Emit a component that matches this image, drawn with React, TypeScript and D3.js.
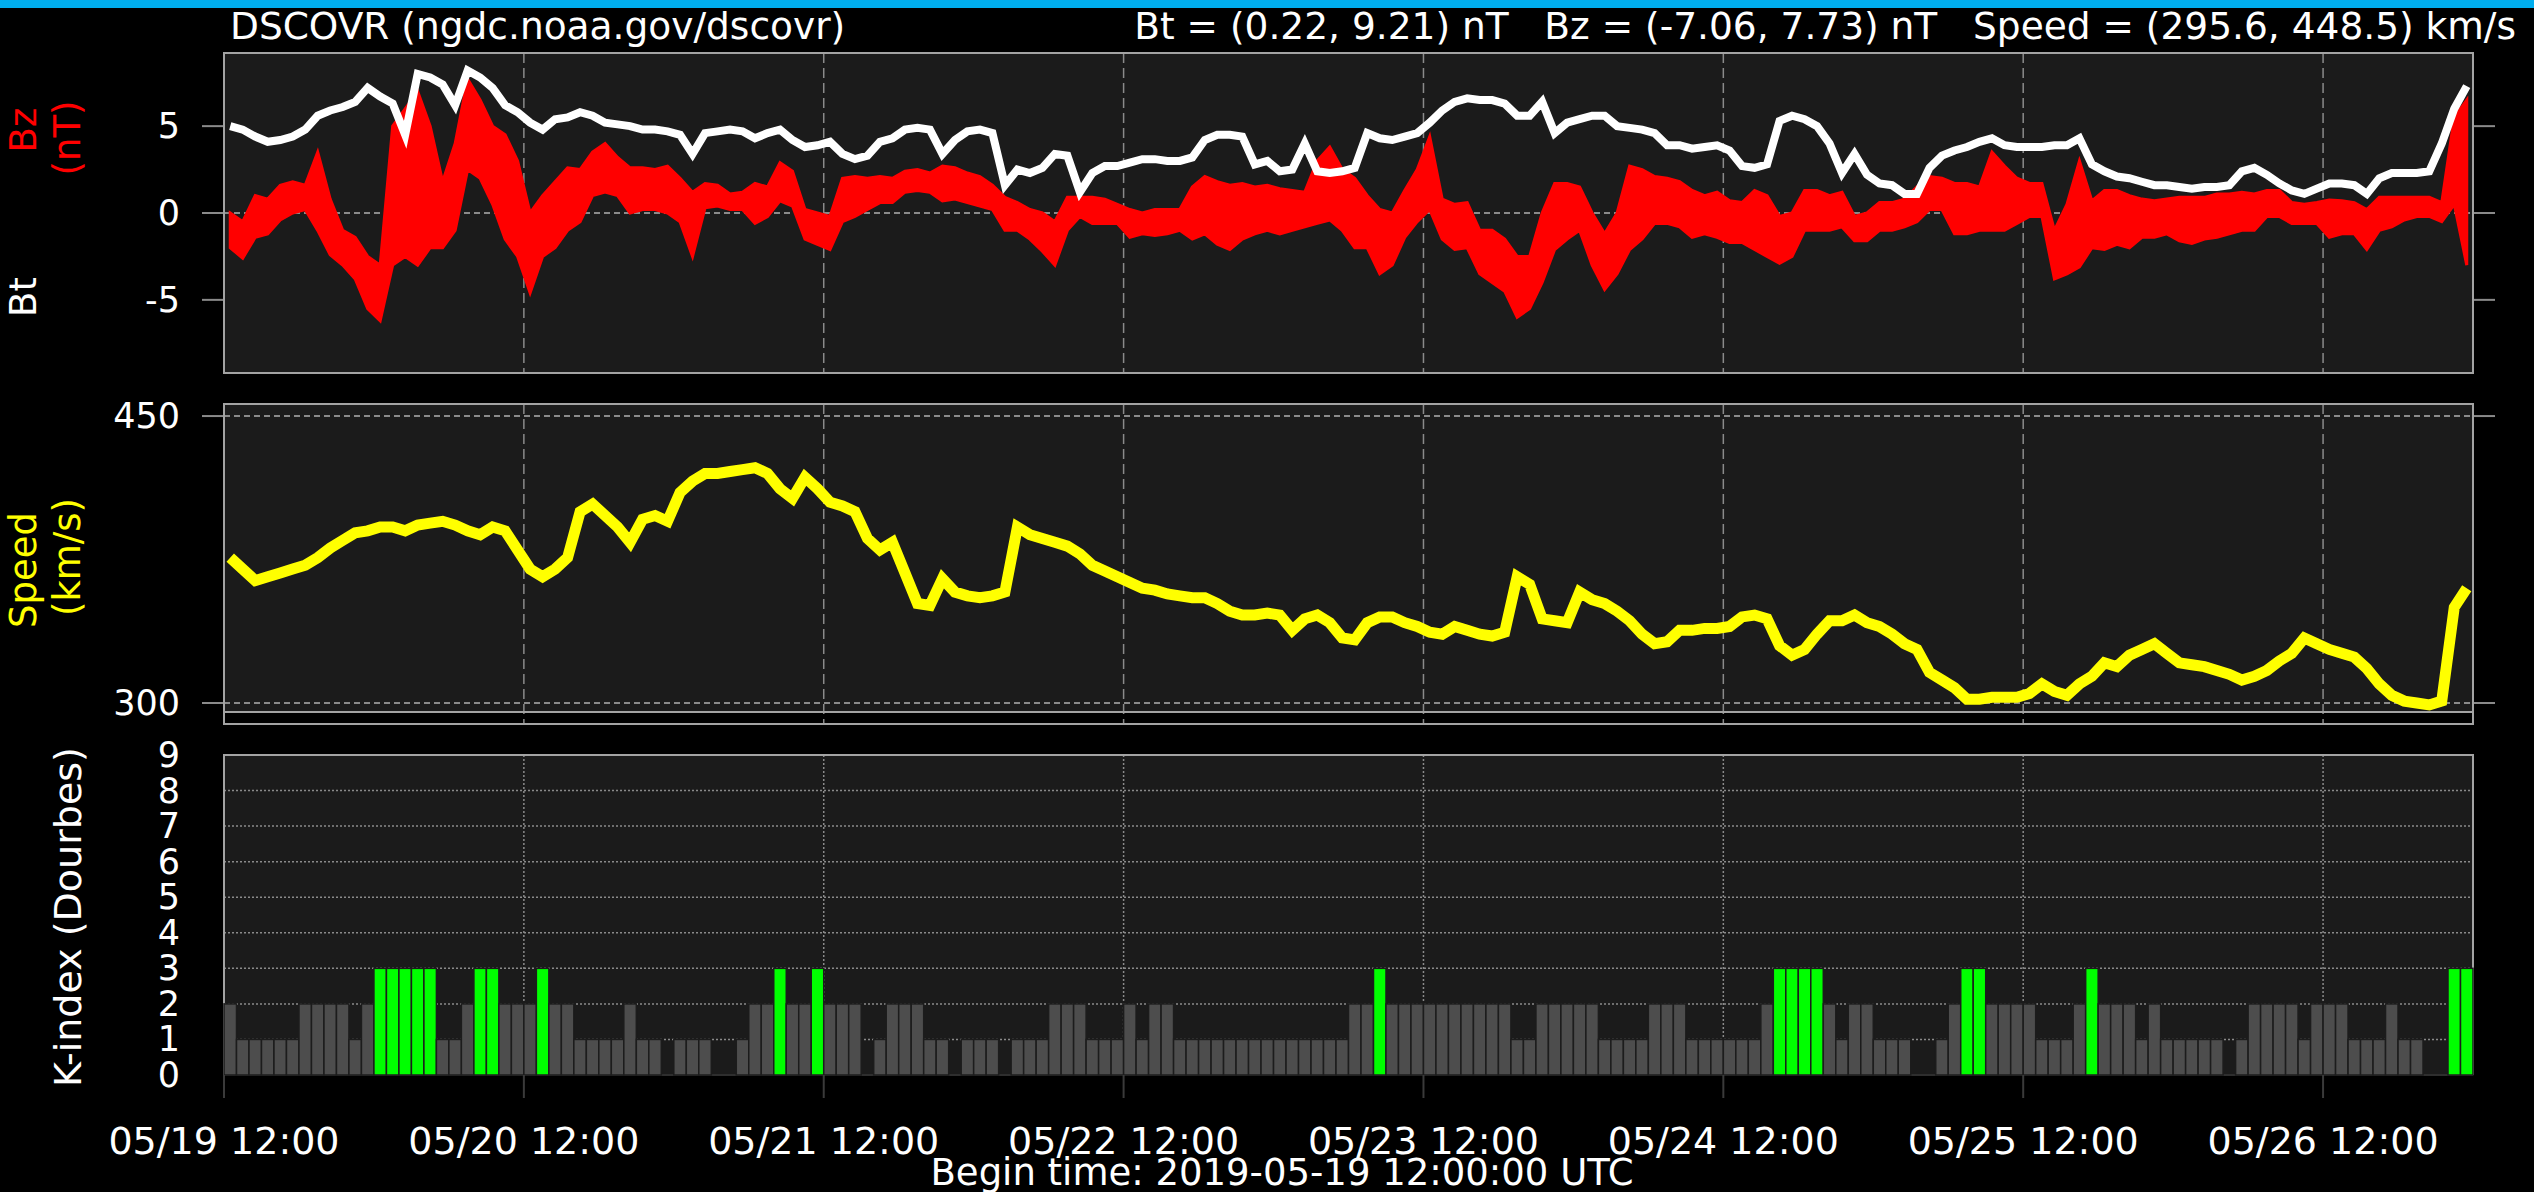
import React from "react";
import * as d3 from "d3";

const FONT = "'DejaVu Sans', Verdana, sans-serif";

const titleLeft = "DSCOVR (ngdc.noaa.gov/dscovr)";
const titleRight = "Bt = (0.22, 9.21) nT   Bz = (-7.06, 7.73) nT   Speed = (295.6, 448.5) km/s";
const beginText = "Begin time: 2019-05-19 12:00:00 UTC";

const tickLabels = ["05/19 12:00", "05/20 12:00", "05/21 12:00", "05/22 12:00", "05/23 12:00", "05/24 12:00", "05/25 12:00", "05/26 12:00"];
const bzTicks = [5, 0, -5];
const speedTicks = [450, 300];
const kTicks = [0, 1, 2, 3, 4, 5, 6, 7, 8, 9];

// hourly Dourbes K-index (180 hours from 05/19 12:00)
const kIndex = [
  2,1,1,1,1,1,2,2,2,2,1,2,3,3,3,3,3,1,1,2,3,3,2,2,
  2,3,2,2,1,1,1,1,2,1,1,0,1,1,1,0,0,1,2,2,3,2,2,3,
  2,2,2,0,1,2,2,2,1,1,0,1,1,1,0,1,1,1,2,2,2,1,1,1,
  2,1,2,2,1,1,1,1,1,1,1,1,1,1,1,1,1,1,2,2,3,2,2,2,
  2,2,2,2,2,2,2,1,1,2,2,2,2,2,1,1,1,1,2,2,2,1,1,1,
  1,1,1,2,3,3,3,3,2,1,2,2,1,1,1,0,0,1,2,3,3,2,2,2,
  2,1,1,1,2,3,2,2,2,1,2,1,1,1,1,1,0,1,2,2,2,2,1,2,
  2,2,1,1,1,2,1,1,0,0,3,3,
];

// hourly Bt (nT)
const btValues = [
  5.0,4.8,4.4,4.1,4.2,4.4,4.8,5.6,5.9,6.1,6.4,7.2,6.7,6.3,4.5,8.0,7.8,7.4,6.2,8.2,7.8,7.2,6.2,5.8,
  5.2,4.8,5.4,5.5,5.8,5.6,5.2,5.1,5.0,4.8,4.8,4.7,4.5,3.4,4.6,4.7,4.8,4.7,4.3,4.6,4.8,4.2,3.8,3.9,
  4.1,3.4,3.1,3.3,4.1,4.3,4.8,4.9,4.8,3.4,4.2,4.7,4.8,4.6,1.6,2.5,2.3,2.6,3.4,3.3,1.2,2.3,2.7,2.7,
  2.9,3.1,3.1,3.0,3.0,3.2,4.2,4.5,4.5,4.4,2.8,3.0,2.4,2.5,4.0,2.4,2.3,2.4,2.6,4.6,4.3,4.2,4.4,4.6,
  5.2,5.9,6.4,6.6,6.5,6.5,6.3,5.6,5.6,6.4,4.6,5.2,5.4,5.6,5.6,5.0,4.9,4.8,4.6,3.9,3.9,3.7,3.8,3.9,
  3.6,2.7,2.6,2.8,5.3,5.6,5.4,5.0,4.0,2.3,3.4,2.2,1.7,1.6,1.1,1.1,2.6,3.3,3.6,3.8,4.1,4.3,3.9,3.8,
  3.8,3.8,3.9,3.9,4.3,2.8,2.4,2.1,2.0,1.8,1.6,1.6,1.5,1.4,1.5,1.5,1.6,2.4,2.6,2.2,1.7,1.3,1.1,1.4,
  1.7,1.7,1.6,1.1,2.0,2.3,2.3,2.3,2.4,4.0,6.0,7.3,
];

// hourly Bz spread: low and high (nT)
const bzLow = [
  -2.0,-2.6,-1.4,-1.2,-0.4,0.0,0.2,-1.0,-2.4,-3.0,-3.8,-5.5,-6.2,-3.0,-2.5,-3.0,-2.0,-2.0,-1.0,2.5,2.0,0.5,-1.5,-2.5,
  -4.6,-2.5,-2.0,-1.0,-0.5,1.0,1.2,1.0,0.0,0.2,0.2,0.0,-0.5,-2.5,0.3,0.4,0.2,0.2,-0.6,-0.2,0.7,0.4,-1.5,-1.8,
  -2.1,-0.5,-0.2,0.2,0.6,0.6,1.2,1.3,1.2,0.7,0.8,0.6,0.4,0.2,-1.0,-1.0,-1.5,-2.2,-3.0,-1.0,-0.2,-0.6,-0.6,-0.6,
  -1.4,-1.2,-1.3,-1.2,-1.0,-1.5,-1.2,-1.8,-2.1,-1.5,-1.2,-1.0,-1.2,-1.0,-0.8,-0.6,-0.4,-1.0,-2.0,-2.0,-3.5,-3.0,-1.4,-0.5,
  0.2,-1.5,-2.1,-2.0,-3.5,-4.0,-4.5,-6.0,-5.5,-4.0,-2.1,-1.5,-1.0,-3.0,-4.4,-3.5,-2.1,-1.5,-0.6,-0.6,-0.8,-1.4,-1.2,-1.4,
  -1.7,-1.7,-2.1,-2.5,-2.9,-2.5,-1.0,-1.0,-1.0,-0.8,-1.6,-1.6,-1.0,-1.0,-0.8,-0.5,0.2,0.2,-1.2,-1.2,-1.0,-1.0,-1.0,-0.6,
  -0.2,-0.2,-3.8,-3.5,-3.1,-2.0,-2.1,-1.8,-2.0,-1.4,-1.4,-1.2,-1.6,-1.75,-1.5,-1.4,-1.2,-1.0,-1.0,-0.2,-0.2,-0.6,-0.6,-0.6,
  -1.4,-1.2,-1.2,-2.1,-1.0,-0.8,-0.4,-0.2,-0.2,-0.5,0.5,-3.0,
];
const bzHigh = [
  0.0,-0.5,1.0,0.8,1.6,1.8,1.6,3.5,0.8,-1.0,-1.4,-2.5,-3.0,5.0,6.0,7.0,5.0,1.8,4.0,7.7,6.5,5.0,4.5,3.0,
  0.0,1.0,1.8,2.6,2.5,3.5,4.0,3.2,2.6,2.6,2.5,2.7,2.0,1.2,1.7,1.6,1.1,1.2,1.7,1.5,2.9,2.4,0.2,0.0,
  -0.2,2.0,2.1,2.0,2.1,2.0,2.4,2.5,2.3,2.7,2.6,2.3,2.1,1.6,0.9,0.6,0.2,0.0,-0.5,0.9,0.9,0.9,0.8,0.5,
  0.2,0.0,0.2,0.2,0.2,1.5,2.1,1.8,1.6,1.7,1.5,1.6,1.4,1.3,1.2,3.0,3.8,2.5,2.0,1.0,0.2,0.0,1.3,2.5,
  4.4,0.8,0.5,0.6,-1.0,-1.0,-1.5,-2.5,-2.5,0.0,1.7,1.7,1.5,0.0,-1.2,0.0,2.7,2.5,2.1,2.0,1.8,1.3,1.0,1.2,
  0.7,0.6,1.3,1.0,-0.2,0.0,1.3,1.3,1.0,1.2,-0.2,0.0,0.6,0.6,0.8,1.5,2.1,2.0,1.7,1.7,1.5,3.5,2.7,2.0,
  1.7,1.7,-1.0,0.5,3.0,0.7,1.3,1.3,1.0,0.8,0.7,0.8,0.9,0.9,0.9,1.1,1.1,1.2,1.1,1.3,1.3,0.6,0.5,0.6,
  0.75,0.7,0.6,0.2,0.9,0.9,0.9,0.9,0.9,0.6,5.5,6.5,
];

// hourly solar wind speed (km/s)
const speedValues = [
  376,370,364,366,368,370,372,376,381,385,389,390,392,392,390,393,394,395,393,390,388,392,390,380,
  370,366,370,376,400,404,398,392,384,396,398,395,410,416,420,420,421,422,423,420,412,407,418,412,
  405,403,400,386,380,384,368,352,351,365,358,356,355,356,358,392,388,386,384,382,378,372,369,366,
  363,360,359,357,356,355,355,352,348,346,346,347,346,338,344,346,342,334,333,342,345,345,342,340,
  337,336,340,338,336,335,337,366,362,344,343,342,358,354,352,348,343,336,331,332,338,338,339,339,
  340,345,346,344,330,325,328,336,343,343,346,342,340,336,331,328,316,312,308,302,302,303,303,303,
  305,310,306,304,310,314,321,319,325,328,331,326,321,320,319,317,315,312,314,317,322,326,334,331,
  328,326,324,318,310,304,301,300,299,301,350,360,
];

export default function App() {
  const W = 2534, H = 1192;
  const L = 224, R = 2473;
  const start = new Date(Date.UTC(2019, 4, 19, 12));
  const end = new Date(Date.UTC(2019, 4, 27, 0));
  const x = d3.scaleUtc().domain([start, end]).range([L, R]);
  const hx = (h: number) => x(d3.utcMinute.offset(start, Math.round(h * 60)));
  const dayTicks = tickLabels.map((_, i) => d3.utcDay.offset(start, i));

  const p1 = { top: 53, bottom: 373 };
  const p2 = { top: 404, bottom: 712, frame: 724 };
  const p3 = { top: 755, bottom: 1075 };

  const yB = d3.scaleLinear().domain([-9.21, 9.21]).range([p1.bottom, p1.top]);
  const yS = d3.scaleLinear().domain([295.3, 456.3]).range([p2.bottom, p2.top]);
  const yK = d3.scaleLinear().domain([0, 9]).range([p3.bottom, p3.top]);

  const bzArea = d3.area<number>()
    .x((_, i) => hx(i + 0.5))
    .y0((_, i) => yB(bzLow[i]))
    .y1((_, i) => yB(bzHigh[i]));
  const btLine = d3.line<number>().x((_, i) => hx(i + 0.5)).y((d) => yB(d));
  const spLine = d3.line<number>().x((_, i) => hx(i + 0.5)).y((d) => yS(d));

  const frameCol = "#a3a3a3";
  const gridCol = "#8a8a8a";
  const bg = "#1b1b1b";
  const kColor = (k: number) => (k >= 4 ? "#ffff00" : k >= 3 ? "#00ff00" : "#4d4d4d");

  return (
    <svg width={W} height={H} style={{ position: "absolute", left: 0, top: 0, background: "#000" }} fontFamily={FONT}>
      <defs>
        <clipPath id="c1"><rect x={L} y={p1.top} width={R - L} height={p1.bottom - p1.top} /></clipPath>
        <clipPath id="c2"><rect x={L} y={p2.top} width={R - L} height={p2.bottom - p2.top} /></clipPath>
      </defs>
      <rect x={0} y={0} width={W} height={H} fill="#000" />
      <rect x={0} y={0} width={W} height={8} fill="#00aeef" />

      <text x={230} y={39} fill="#fff" fontSize={37.5}>{titleLeft}</text>
      <text x={2516} y={39} fill="#fff" fontSize={37.5} textAnchor="end" style={{ whiteSpace: "pre" }}>{titleRight}</text>

      {/* Panel 1: Bt / Bz */}
      <rect x={L} y={p1.top} width={R - L} height={p1.bottom - p1.top} fill={bg} />
      {dayTicks.slice(1).map((d, i) => (
        <line key={i} x1={x(d)} x2={x(d)} y1={p1.top} y2={p1.bottom} stroke={gridCol} strokeWidth={1.5} strokeDasharray="10,5" />
      ))}
      <line x1={L} x2={R} y1={yB(0)} y2={yB(0)} stroke={gridCol} strokeWidth={2} strokeDasharray="6,4" />
      {bzTicks.map((t) => (
        <g key={t}>
          <line x1={202} x2={L} y1={yB(t)} y2={yB(t)} stroke={gridCol} strokeWidth={2} />
          <line x1={R} x2={2495} y1={yB(t)} y2={yB(t)} stroke={gridCol} strokeWidth={2} />
          <text x={180} y={yB(t)} fill="#fff" fontSize={35} textAnchor="end" dominantBaseline="central">{t}</text>
        </g>
      ))}
      <g clipPath="url(#c1)">
        <path d={bzArea(bzLow) || ""} fill="#ff0000" stroke="#ff0000" strokeWidth={3} strokeLinejoin="miter" />
        <path d={btLine(btValues) || ""} fill="none" stroke="#ffffff" strokeWidth={8} strokeLinejoin="miter" />
      </g>
      <rect x={L} y={p1.top} width={R - L} height={p1.bottom - p1.top} fill="none" stroke={frameCol} strokeWidth={2} />
      <text transform="translate(36,130) rotate(-90)" fill="#ff0000" fontSize={37} textAnchor="middle">Bz</text>
      <text transform="translate(80,138) rotate(-90)" fill="#ff0000" fontSize={37} textAnchor="middle">(nT)</text>
      <text transform="translate(36,297) rotate(-90)" fill="#ffffff" fontSize={37} textAnchor="middle">Bt</text>

      {/* Panel 2: Speed */}
      <rect x={L} y={p2.top} width={R - L} height={p2.bottom - p2.top} fill={bg} />
      {dayTicks.slice(1).map((d, i) => (
        <line key={i} x1={x(d)} x2={x(d)} y1={p2.top} y2={p2.frame} stroke={gridCol} strokeWidth={1.5} strokeDasharray="10,5" />
      ))}
      {speedTicks.map((t) => (
        <g key={t}>
          <line x1={L} x2={R} y1={yS(t)} y2={yS(t)} stroke={gridCol} strokeWidth={2} strokeDasharray="6,4" />
          <line x1={202} x2={L} y1={yS(t)} y2={yS(t)} stroke={gridCol} strokeWidth={2} />
          <line x1={R} x2={2495} y1={yS(t)} y2={yS(t)} stroke={gridCol} strokeWidth={2} />
          <text x={180} y={yS(t)} fill="#fff" fontSize={35} textAnchor="end" dominantBaseline="central">{t}</text>
        </g>
      ))}
      <g clipPath="url(#c2)">
        <path d={spLine(speedValues) || ""} fill="none" stroke="#ffff00" strokeWidth={11} strokeLinejoin="miter" />
      </g>
      <line x1={L} x2={R} y1={p2.bottom} y2={p2.bottom} stroke={frameCol} strokeWidth={2} />
      <rect x={L} y={p2.top} width={R - L} height={p2.frame - p2.top} fill="none" stroke={frameCol} strokeWidth={2} />
      <text transform="translate(36,570) rotate(-90)" fill="#ffff00" fontSize={37} textAnchor="middle">Speed</text>
      <text transform="translate(80,557) rotate(-90)" fill="#ffff00" fontSize={37} textAnchor="middle">(km/s)</text>

      {/* Panel 3: K-index */}
      <rect x={L} y={p3.top} width={R - L} height={p3.bottom - p3.top} fill={bg} />
      {kTicks.slice(1, 9).map((t) => (
        <line key={t} x1={L} x2={R} y1={yK(t)} y2={yK(t)} stroke={gridCol} strokeWidth={1.5} strokeDasharray="2,2" />
      ))}
      {dayTicks.slice(1).map((d, i) => (
        <line key={i} x1={x(d)} x2={x(d)} y1={p3.top} y2={p3.bottom} stroke={gridCol} strokeWidth={1.5} strokeDasharray="2,2" />
      ))}
      <path d={`M${L},${p3.bottom}V${p3.top}H${R}V${p3.bottom}`} fill="none" stroke={frameCol} strokeWidth={2} />
      <line x1={L} x2={R} y1={p3.bottom} y2={p3.bottom} stroke="#2e2e2e" strokeWidth={2} />
      {kIndex.map((k, i) =>
        k > 0 ? (
          <rect key={i} x={hx(i)} y={yK(k)} width={hx(i + 1) - hx(i)} height={yK(0) - yK(k)} fill={kColor(k)} stroke="#1c1c1c" strokeWidth={1.5} />
        ) : null
      )}
      {dayTicks.map((d, i) => (
        <line key={i} x1={x(d)} x2={x(d)} y1={p3.bottom} y2={1098} stroke="#3a3a3a" strokeWidth={2} />
      ))}
      {kTicks.map((t) => (
        <text key={t} x={180} y={yK(t)} fill="#fff" fontSize={35} textAnchor="end" dominantBaseline="central">{t}</text>
      ))}
      <text transform="translate(81,917) rotate(-90)" fill="#ffffff" fontSize={38} textAnchor="middle">K-index (Dourbes)</text>

      {dayTicks.map((d, i) => (
        <text key={i} x={x(d)} y={1154} fill="#fff" fontSize={38} textAnchor="middle">{tickLabels[i]}</text>
      ))}
      <text x={1282} y={1185} fill="#fff" fontSize={37} textAnchor="middle">{beginText}</text>
    </svg>
  );
}
